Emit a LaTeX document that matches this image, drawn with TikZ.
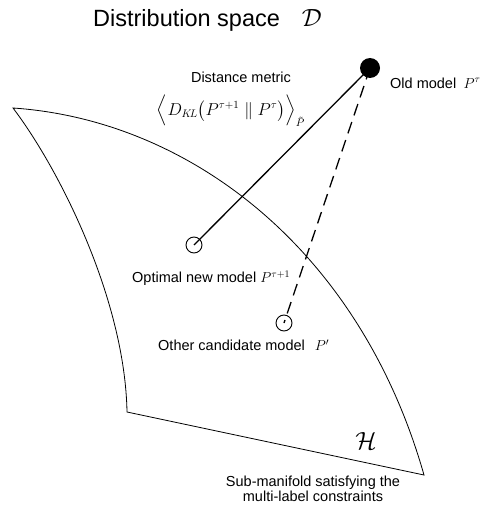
\documentclass[tikz,border=0pt]{standalone}
\usepackage{amsmath}
\usepackage{fontspec}
\setmainfont{Liberation Sans}
\usepackage{tikz}
\usetikzlibrary{positioning, calc}

\tikzset{
  model/.style={circle, draw, line width=0.9pt, minimum size=16pt, inner sep=0pt},
  oldmodel/.style={circle, fill=black, minimum size=20pt, inner sep=0pt},
  lbl/.style={font=\fontsize{14.5}{15}\selectfont, inner sep=0pt},
  edge/.style={line width=0.8pt}
}

\begin{document}
\begin{tikzpicture}[x=1pt, y=-1pt]
  \useasboundingbox (0,0) rectangle (484,508);

  % sub-manifold H
  \draw[edge] (13,108) .. controls (190,120) and (360,250) .. (424,475)
    -- (127,412) .. controls (125,300) and (60,170) .. (13,108) -- cycle;

  % models
  \node[oldmodel] (old) at (370,68) {};
  \node[model] (opt) at (194,245) {};
  \node[model] (cand) at (284,323) {};

  \draw[line width=1.3pt] (old.center) -- (opt.center);
  \draw[line width=1.3pt, dash pattern=on 12pt off 7pt] (old.center) -- (cand.center);

  % labels
  \node[anchor=west, inner sep=0pt, font=\fontsize{23.5}{26}\selectfont] (title) at (93,20)
    {Distribution space\hspace{22pt}{\fontsize{30}{32}\selectfont$\mathcal{D}$}};
  \node[lbl] (dist) at (241,77) {Distance metric};
  \node[inner sep=0pt, font=\fontsize{16}{18}\selectfont] (kl) at (231,111)
    {$\Bigl\langle D_{K\!L}\bigl(P^{\tau+1}\;\|\;P^{\tau}\bigr)\Bigr\rangle_{\tilde P}$};
  \node[lbl, anchor=west] (oldlbl) at (390,83) {Old model\enspace$P^{\tau}$};
  \node[lbl, anchor=west] (optlbl) at (132,278) {Optimal new model $P^{\tau+1}$};
  \node[lbl, anchor=west] (candlbl) at (158,345) {Other candidate model\hspace{10pt}$P'$};
  \node[inner sep=0pt, font=\fontsize{30}{32}\selectfont] (hh) at (366,441) {$\mathcal{H}$};
  \node[lbl, align=center] (sub) at (313,489)
    {Sub-manifold satisfying the\\multi-label constraints};
\end{tikzpicture}
\end{document}
